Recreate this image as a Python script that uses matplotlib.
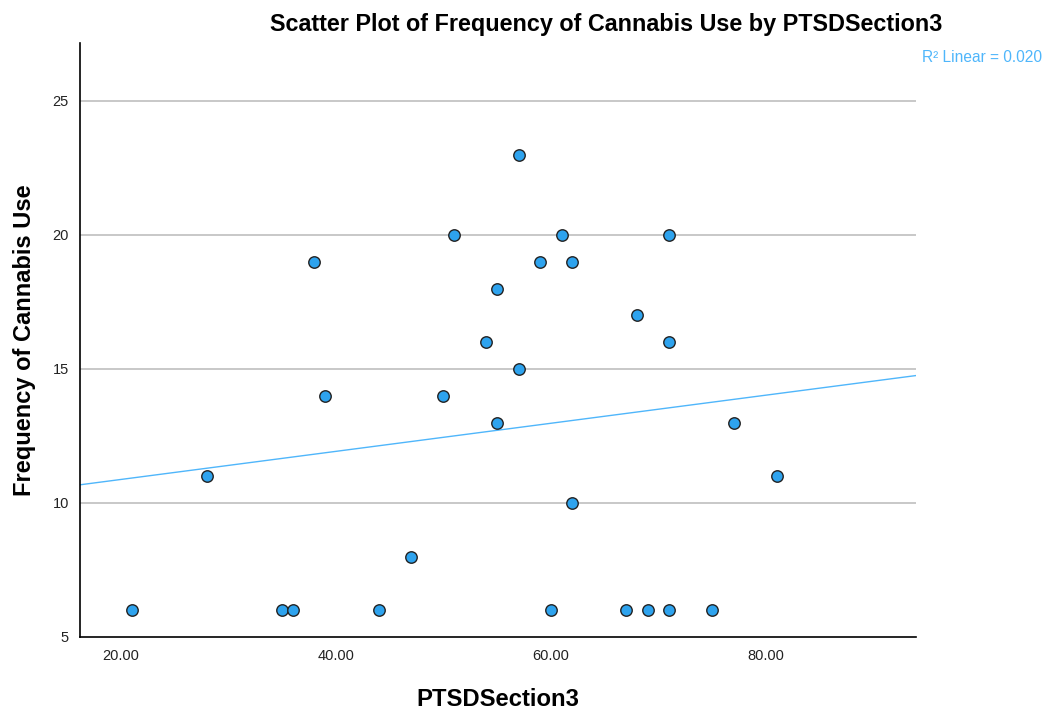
import numpy as np
import matplotlib.pyplot as plt

plt.rcParams['font.family'] = ['Liberation Sans', 'DejaVu Sans']

# PTSDSection3 score vs. frequency of cannabis use
ptsd = [21, 28, 35, 36, 38, 39, 44, 47, 50, 51, 54, 55, 55, 57, 57, 59, 60,
        61, 62, 62, 67, 68, 69, 71, 71, 71, 75, 77, 81]
freq = [6, 11, 6, 6, 19, 14, 6, 8, 14, 20, 16, 18, 13, 23, 15, 19, 6,
        20, 19, 10, 6, 17, 6, 20, 16, 6, 6, 13, 11]

x_ticks = [20, 40, 60, 80]
y_ticks = [5, 10, 15, 20, 25]
r2_label = "R\u00b2 Linear = 0.020"

x = np.array(ptsd, dtype=float)
y = np.array(freq, dtype=float)
slope, intercept = np.polyfit(x, y, 1)

fig = plt.figure(figsize=(10.47, 7.13), dpi=100)
ax = fig.add_axes([0.0764, 0.1066, 0.7985, 0.8331])

xmin, xmax = 16.2, 93.95
ax.set_xlim(xmin, xmax)
ax.set_ylim(5, 27.16)

for t in y_ticks[1:]:
    ax.axhline(t, color='#b9b9b9', lw=1.1, zorder=1)

xs = np.array([xmin, xmax])
ax.plot(xs, intercept + slope * xs, color='#4fb6fb', lw=1.0, zorder=2)

ax.scatter(x, y, s=68, c='#2ea3ee', edgecolors='#222222', linewidths=1.0,
           zorder=3)

ax.set_xticks(x_ticks)
ax.set_xticklabels([f"{t:.2f}" for t in x_ticks])
ax.set_yticks(y_ticks)
ax.tick_params(length=0, labelsize=10.5, colors='#222222', pad=9)
ax.tick_params(axis='y', pad=8)

for side in ('top', 'right'):
    ax.spines[side].set_visible(False)
for side in ('left', 'bottom'):
    ax.spines[side].set_color('black')
    ax.spines[side].set_linewidth(1.2)

ax.set_xlabel("PTSDSection3", fontsize=17.2, fontweight='bold', labelpad=18)
ax.set_ylabel("Frequency of Cannabis Use", fontsize=17, fontweight='bold',
              labelpad=12)

fig.text(606 / 1047, 1 - 25 / 713,
         "Scatter Plot of Frequency of Cannabis Use by PTSDSection3",
         ha='center', va='center', fontsize=16.8, fontweight='bold')
fig.text(982 / 1047, 1 - 57 / 713, r2_label, ha='center', va='center',
         fontsize=11.2, color='#4fb6fb')

fig.savefig('out.png', dpi=100)
